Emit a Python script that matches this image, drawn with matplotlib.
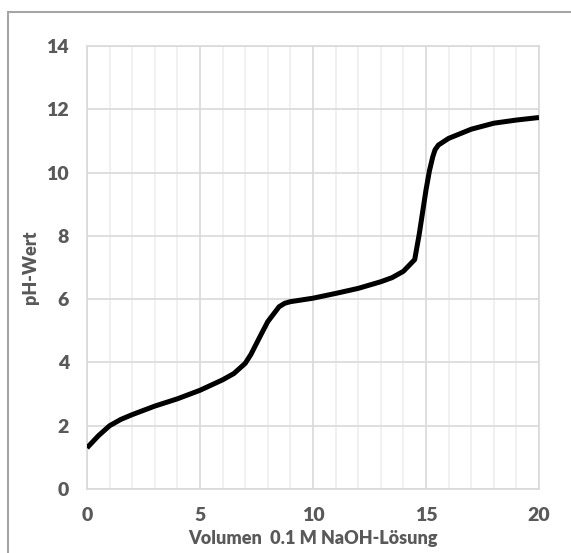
import matplotlib
matplotlib.use("Agg")
from matplotlib import pyplot as plt
from matplotlib.patches import Rectangle
from matplotlib.ticker import MultipleLocator

plt.rcParams["font.family"] = ["Lato", "DejaVu Sans"]
plt.rcParams["font.weight"] = "bold"

# titration curve
volume = [0, 0.5, 1, 1.5, 2, 3, 4, 5, 6, 6.5, 7, 7.25, 7.5, 7.75, 8, 8.5, 8.75,
          9, 10, 11, 12, 13, 13.5, 14, 14.5, 14.7, 14.85, 15, 15.15, 15.3,
          15.4, 15.55, 16, 17, 18, 19, 20]
ph = [1.3, 1.68, 2.0, 2.2, 2.35, 2.62, 2.85, 3.12, 3.45, 3.65, 3.97, 4.25, 4.6,
      4.95, 5.29, 5.76, 5.87, 5.92, 6.03, 6.18, 6.34, 6.55, 6.68, 6.88, 7.25,
      8.05, 8.75, 9.45, 10.05, 10.5, 10.72, 10.87, 11.08, 11.37, 11.56, 11.66,
      11.74]

text_col = "#595959"
grid_major = "#d9d9d9"
grid_minor = "#efefef"

fig = plt.figure(figsize=(5.71, 5.53), dpi=100)
ax = fig.add_axes([87 / 571, 1 - 489 / 553, 452 / 571, 443 / 553])

# outer chart border (only top/left visible in the crop)
fig.patches.append(Rectangle((8 / 571, -0.1), 1.2, 1 - 12 / 553 + 0.1,
                             transform=fig.transFigure, fill=False,
                             edgecolor="#a6a6a6", linewidth=1.5))

ax.plot(volume, ph, color="black", linewidth=3.6, solid_joinstyle="round",
        solid_capstyle="butt", zorder=3)

ax.set_xlim(0, 20)
ax.set_ylim(0, 14)
ax.xaxis.set_major_locator(MultipleLocator(5))
ax.xaxis.set_minor_locator(MultipleLocator(1))
ax.yaxis.set_major_locator(MultipleLocator(2))

ax.grid(True, which="minor", axis="x", color=grid_minor, linewidth=1.2)
ax.grid(True, which="major", axis="both", color=grid_major, linewidth=1.2)
ax.set_axisbelow(True)

for s in ax.spines.values():
    s.set_color(grid_major)
    s.set_linewidth(1.2)

ax.tick_params(which="both", length=0)
ax.tick_params(axis="x", pad=13, labelsize=14, labelcolor=text_col)
ax.tick_params(axis="y", pad=13, labelsize=14, labelcolor=text_col)
for lab in ax.get_xticklabels() + ax.get_yticklabels():
    lab.set_fontweight("heavy")

ax.set_xlabel("Volumen  0.1 M NaOH-Lösung", fontsize=13, color=text_col,
              fontweight="heavy", labelpad=4)
ax.set_ylabel("pH-Wert", fontsize=13, color=text_col, fontweight="heavy",
              labelpad=5)

fig.savefig("out.png", dpi=100)
